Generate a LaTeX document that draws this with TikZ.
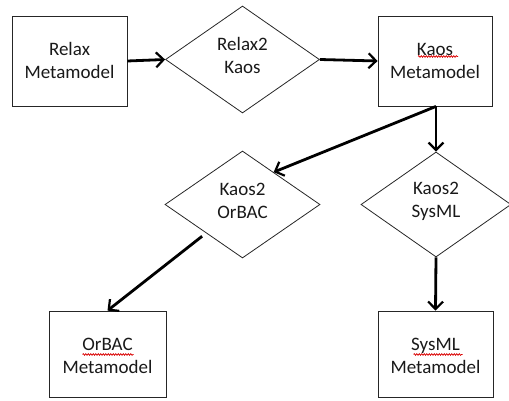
\documentclass[tikz,border=0pt]{standalone}
\usepackage{fontspec}
\setmainfont{Carlito}
\usetikzlibrary{shapes.geometric,arrows.meta,calc,decorations.pathmorphing}
\begin{document}
\begin{tikzpicture}[x=1pt,y=-1pt,
  every node/.style={font=\fontsize{19}{23}\selectfont, text=black!90, align=center, inner sep=0pt},
  mbox/.style={draw=black!85, line width=0.8pt, rectangle, minimum width=115pt, minimum height=90pt},
  dia/.style={draw=black!85, line width=0.8pt, diamond, minimum width=154pt, minimum height=107pt},
  arr/.style={draw=black, line width=2.8pt, -{Straight Barb[length=7.5pt,width=15pt,line width=2.2pt]}},
  squig/.style={draw=red!85!black, line width=0.7pt, decorate, decoration={snake, amplitude=0.8pt, segment length=2.5pt}}]
\useasboundingbox (0,0) rectangle (509,401);
\node[mbox] (relax) at (69.5,61) {\\[-11pt]Relax\\Metamodel};
\node[dia] (r2k) at (242.5,59.5) {\\[-17pt]Relax2\\Kaos};
\node[mbox, minimum width=114pt] (kaos) at (435,61) {\\[-11pt]Kaos\\Metamodel};
\node[dia, minimum width=155pt] (k2o) at (242.5,204.5) {\\[-17pt]Kaos2\\OrBAC};
\node[dia, minimum width=150pt, minimum height=105pt] (k2s) at (436,204.5) {\\[-17pt]Kaos2\\SysML};
\node[mbox, minimum width=117pt, minimum height=86pt] (orbac) at (107.5,354) {\\[-6pt]OrBAC\\Metamodel};
\node[mbox, minimum height=86pt] (sysml) at (435.5,354) {\\[-6pt]SysML\\Metamodel};
% spelling underlines
\draw[squig] ($(kaos.center)+(-17,-4.5)$) -- ++(40,0);
\draw[squig] ($(orbac.center)+(-25,0.5)$) -- ++(51,0);
\draw[squig] ($(sysml.center)+(-22,0.5)$) -- ++(49,0);
% connectors
\draw[arr] (relax.east) -- (r2k.west);
\draw[arr] (r2k.east) -- (kaos.west);
\coordinate (ks) at ($(kaos.south west)!0.5!(kaos.south east)+(1,0)$);
\draw[arr] (ks) -- (k2s.north);
\draw[arr] (ks) -- ($(k2o.north)!0.4!(k2o.east)$);
\draw[arr, shorten <=5pt] (k2o) -- (orbac.north);
\draw[arr] (k2s.south) -- (sysml.north);
\end{tikzpicture}
\end{document}
